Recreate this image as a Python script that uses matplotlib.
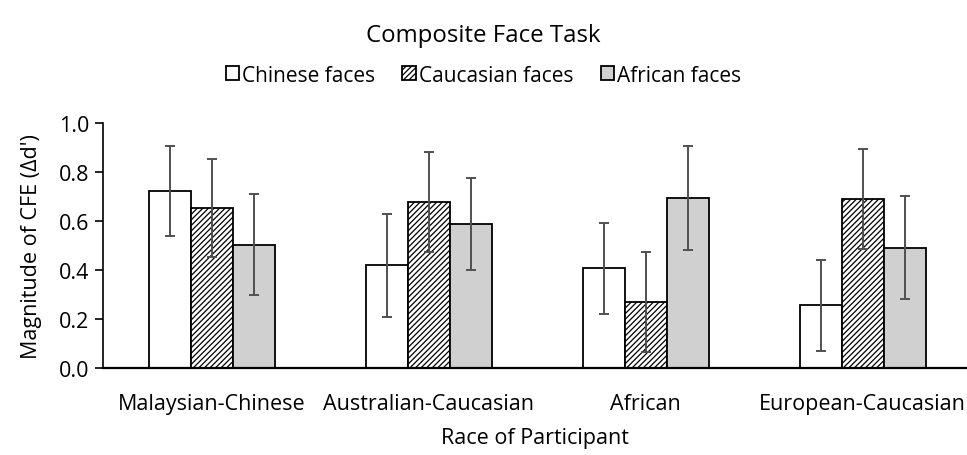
import matplotlib
matplotlib.use("Agg")
import matplotlib.pyplot as plt
import numpy as np

plt.rcParams['font.family'] = ['Open Sans', 'DejaVu Sans']
plt.rcParams['hatch.linewidth'] = 0.9

categories = ["Malaysian-Chinese", "Australian-Caucasian", "African", "European-Caucasian"]
series_names = ["Chinese faces", "Caucasian faces", "African faces"]
chinese = [0.725, 0.420, 0.408, 0.257]
caucasian = [0.654, 0.679, 0.269, 0.690]
african = [0.505, 0.588, 0.695, 0.492]
chinese_err = [0.184, 0.211, 0.187, 0.187]
caucasian_err = [0.200, 0.204, 0.204, 0.205]
african_err = [0.207, 0.188, 0.212, 0.210]

fig = plt.figure(figsize=(9.67, 4.56), dpi=100)
ax = fig.add_axes([103/967, 86.7/456, 1 - 103/967, 245/456])

FS = 15.5
x = np.arange(len(categories))
w = 0.1935
styles = [dict(color="white", hatch=None), dict(color="white", hatch="//////"), dict(color="#d0d0d0", hatch=None)]
data = [(chinese, chinese_err), (caucasian, caucasian_err), (african, african_err)]
handles = []
for i, ((vals, errs), st, name) in enumerate(zip(data, styles, series_names)):
    b = ax.bar(x + (i - 1) * w, vals, w, color=st["color"], edgecolor="black", linewidth=1.3,
               hatch=st["hatch"], label=name, zorder=2)
    ax.errorbar(x + (i - 1) * w, vals, yerr=errs, fmt="none", ecolor="#505050", elinewidth=1.4,
                capsize=3.5, capthick=1.4, zorder=3)
    handles.append(b)

ax.set_xlim(-0.5, 3.48)
ax.set_ylim(0, 1.0)
ax.set_yticks([0, 0.2, 0.4, 0.6, 0.8, 1.0])
ax.set_yticklabels(["0.0", "0.2", "0.4", "0.6", "0.8", "1.0"])
ax.set_xticks(x)
ax.set_xticklabels(categories)
ax.tick_params(axis="x", length=0, labelsize=FS, pad=18)
ax.tick_params(axis="y", length=6, width=1.2, labelsize=FS, pad=4)
for s in ["top", "right"]:
    ax.spines[s].set_visible(False)
ax.spines["left"].set_linewidth(1.2)
ax.spines["bottom"].set_linewidth(1.6)

ax.set_ylabel("Magnitude of CFE (Δd')", fontsize=FS, labelpad=12)
ax.set_xlabel("Race of Participant", fontsize=FS, labelpad=9)

fig.text(0.5, 1 - 36/456, "Composite Face Task", ha="center", va="center", fontsize=17.3)
fig.legend(handles=handles, labels=series_names, loc="center", bbox_to_anchor=(0.5, 1 - 76/456),
           ncol=3, frameon=False, fontsize=FS - 0.5, handlelength=0.65, handleheight=0.65,
           handletextpad=0.15, columnspacing=1.3)

fig.savefig("out.png", dpi=100)
